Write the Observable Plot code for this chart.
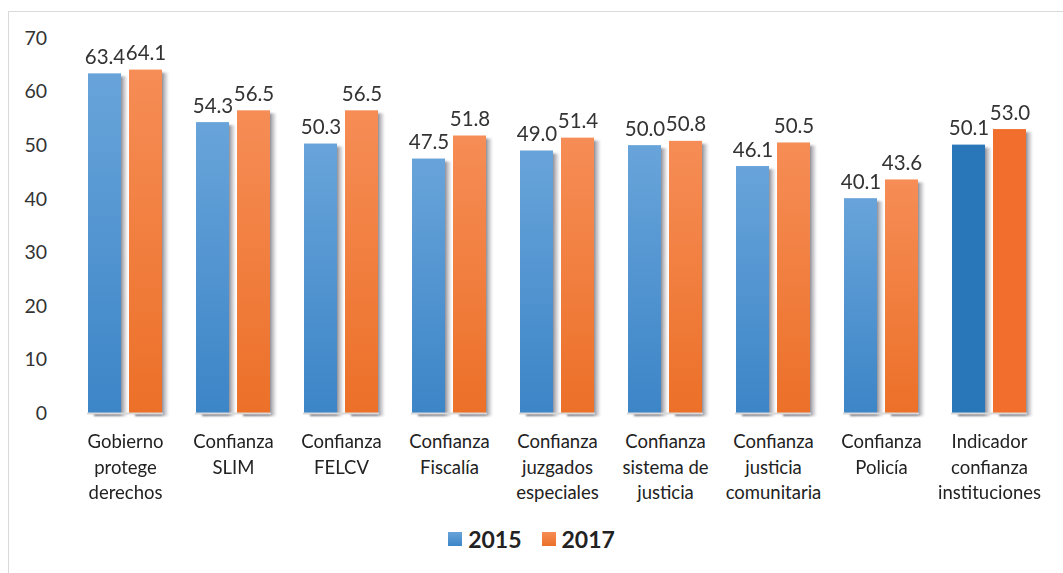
<!DOCTYPE html>
<html>
<head>
<meta charset="utf-8">
<script src="https://cdn.jsdelivr.net/npm/d3@7"></script>
<script src="https://cdn.jsdelivr.net/npm/@observablehq/plot@0.6"></script>
<style>
  html, body { margin: 0; padding: 0; background: #fff; }
  body { width: 1063px; height: 573px; position: relative; overflow: hidden; font-family: Lato, "Open Sans", sans-serif; }
  #frame { position: absolute; left: 8px; top: 11px; width: 1060px; height: 600px; border: 1px solid #d9d9d9; box-sizing: border-box; }
  #chart { position: absolute; left: 0; top: 0; }
  #legend { position: absolute; left: 0; top: 525px; width: 1063px; display: flex; justify-content: center; align-items: center; font-weight: bold; font-size: 23px; color: #222; }
  .item { display: flex; align-items: center; margin: 0 10px; }
  .sw { width: 14px; height: 14px; margin-right: 6px; }
</style>
</head>
<body>
<div id="frame"></div>
<div id="chart"></div>
<div id="legend">
  <div class="item"><div class="sw" style="background: linear-gradient(#67a3d9, #3d86c8)"></div><span>2015</span></div>
  <div class="item"><div class="sw" style="background: linear-gradient(#f68c54, #ec7029)"></div><span>2017</span></div>
</div>
<script>
const categories = [
  "Gobierno\nprotege\nderechos",
  "Confianza\nSLIM",
  "Confianza\nFELCV",
  "Confianza\nFiscalía",
  "Confianza\njuzgados\nespeciales",
  "Confianza\nsistema de\njusticia",
  "Confianza\njusticia\ncomunitaria",
  "Confianza\nPolicía",
  "Indicador\nconfianza\ninstituciones"
];
const years = ["2015", "2017"];
const values2015 = [63.4, 54.3, 50.3, 47.5, 49.0, 50.0, 46.1, 40.1, 50.1];
const values2017 = [64.1, 56.5, 56.5, 51.8, 51.4, 50.8, 50.5, 43.6, 53.0];
const yTicks = [0, 10, 20, 30, 40, 50, 60, 70];

const data = [];
categories.forEach((c, i) => {
  data.push({cat: c, year: "2015", value: values2015[i], summary: i === categories.length - 1});
  data.push({cat: c, year: "2017", value: values2017[i], summary: i === categories.length - 1});
});

const fillFor = d => d.summary
  ? (d.year === "2015" ? "#2977b9" : "#f26e2c")
  : (d.year === "2015" ? "url(#g2015)" : "url(#g2017)");

const plot = Plot.plot({
  width: 1063,
  height: 510,
  marginLeft: 68,
  marginRight: 18,
  marginTop: 38,
  marginBottom: 97,
  style: {fontFamily: "Lato, 'Open Sans', sans-serif", fontSize: "19px", color: "#333", background: "transparent", overflow: "visible"},
  fx: {domain: categories, paddingInner: 0.3, paddingOuter: 0.15, axis: null, label: null},
  x: {domain: years, paddingInner: 0.19, paddingOuter: 0, axis: null, label: null},
  y: {domain: [0, 70], axis: null},
  color: {type: "identity"},
  marks: [
    Plot.barY(data, {fx: "cat", x: "year", y: "value", fill: "url(#gshadow)", dx: 6, dy: 3}),
    Plot.barY(data, {fx: "cat", x: "year", y: "value", fill: fillFor}),
    Plot.ruleY([0], {stroke: "#d9d9d9", strokeWidth: 2, clip: false}),
    Plot.text(data, {fx: "cat", x: "year", y: "value", text: d => d.value.toFixed(1), lineAnchor: "bottom", dy: -10, fill: "#333", fontSize: 20.5}),
    Plot.text(categories, {fx: d => d, text: d => d, frameAnchor: "bottom", lineAnchor: "top", dy: 17, lineHeight: 1.36, fill: "#222", fontSize: 18.5})
  ]
});

// y tick labels drawn as text via the y scale (outside facets)
const ns = "http://www.w3.org/2000/svg";
const yScale = plot.scale("y");
const yAxisG = document.createElementNS(ns, "g");
yAxisG.setAttribute("aria-label", "y-axis tick label");
yAxisG.setAttribute("font-size", "19.5");
yAxisG.setAttribute("fill", "#333");
yAxisG.setAttribute("text-anchor", "end");
for (const t of yTicks) {
  const tx = document.createElementNS(ns, "text");
  tx.setAttribute("x", 47);
  tx.setAttribute("y", yScale.apply(t));
  tx.setAttribute("dy", "0.35em");
  tx.textContent = d3.format("d")(t);
  yAxisG.appendChild(tx);
}
plot.appendChild(yAxisG);

// gradient definitions
const defs = document.createElementNS(ns, "defs");
defs.innerHTML = `
  <linearGradient id="g2015" x1="0" y1="0" x2="0" y2="1">
    <stop offset="0" stop-color="#68a4da"/>
    <stop offset="1" stop-color="#3c85c7"/>
  </linearGradient>
  <linearGradient id="g2017" x1="0" y1="0" x2="0" y2="1">
    <stop offset="0" stop-color="#f68d56"/>
    <stop offset="1" stop-color="#ec7028"/>
  </linearGradient>
  <linearGradient id="gshadow" x1="0" y1="0" x2="1" y2="0">
    <stop offset="0" stop-color="#6a6a74" stop-opacity="0.95"/>
    <stop offset="0.8" stop-color="#72727c" stop-opacity="0.9"/>
    <stop offset="1" stop-color="#b0b0b8" stop-opacity="0.2"/>
  </linearGradient>
  <filter id="blur" x="-20%" y="-5%" width="140%" height="110%">
    <feGaussianBlur stdDeviation="1"/>
  </filter>`;
plot.insertBefore(defs, plot.firstChild);
const barGroups = plot.querySelectorAll('g[aria-label="bar"]');
if (barGroups.length) barGroups[0].setAttribute("filter", "url(#blur)");
document.getElementById("chart").appendChild(plot);
</script>
</body>
</html>
